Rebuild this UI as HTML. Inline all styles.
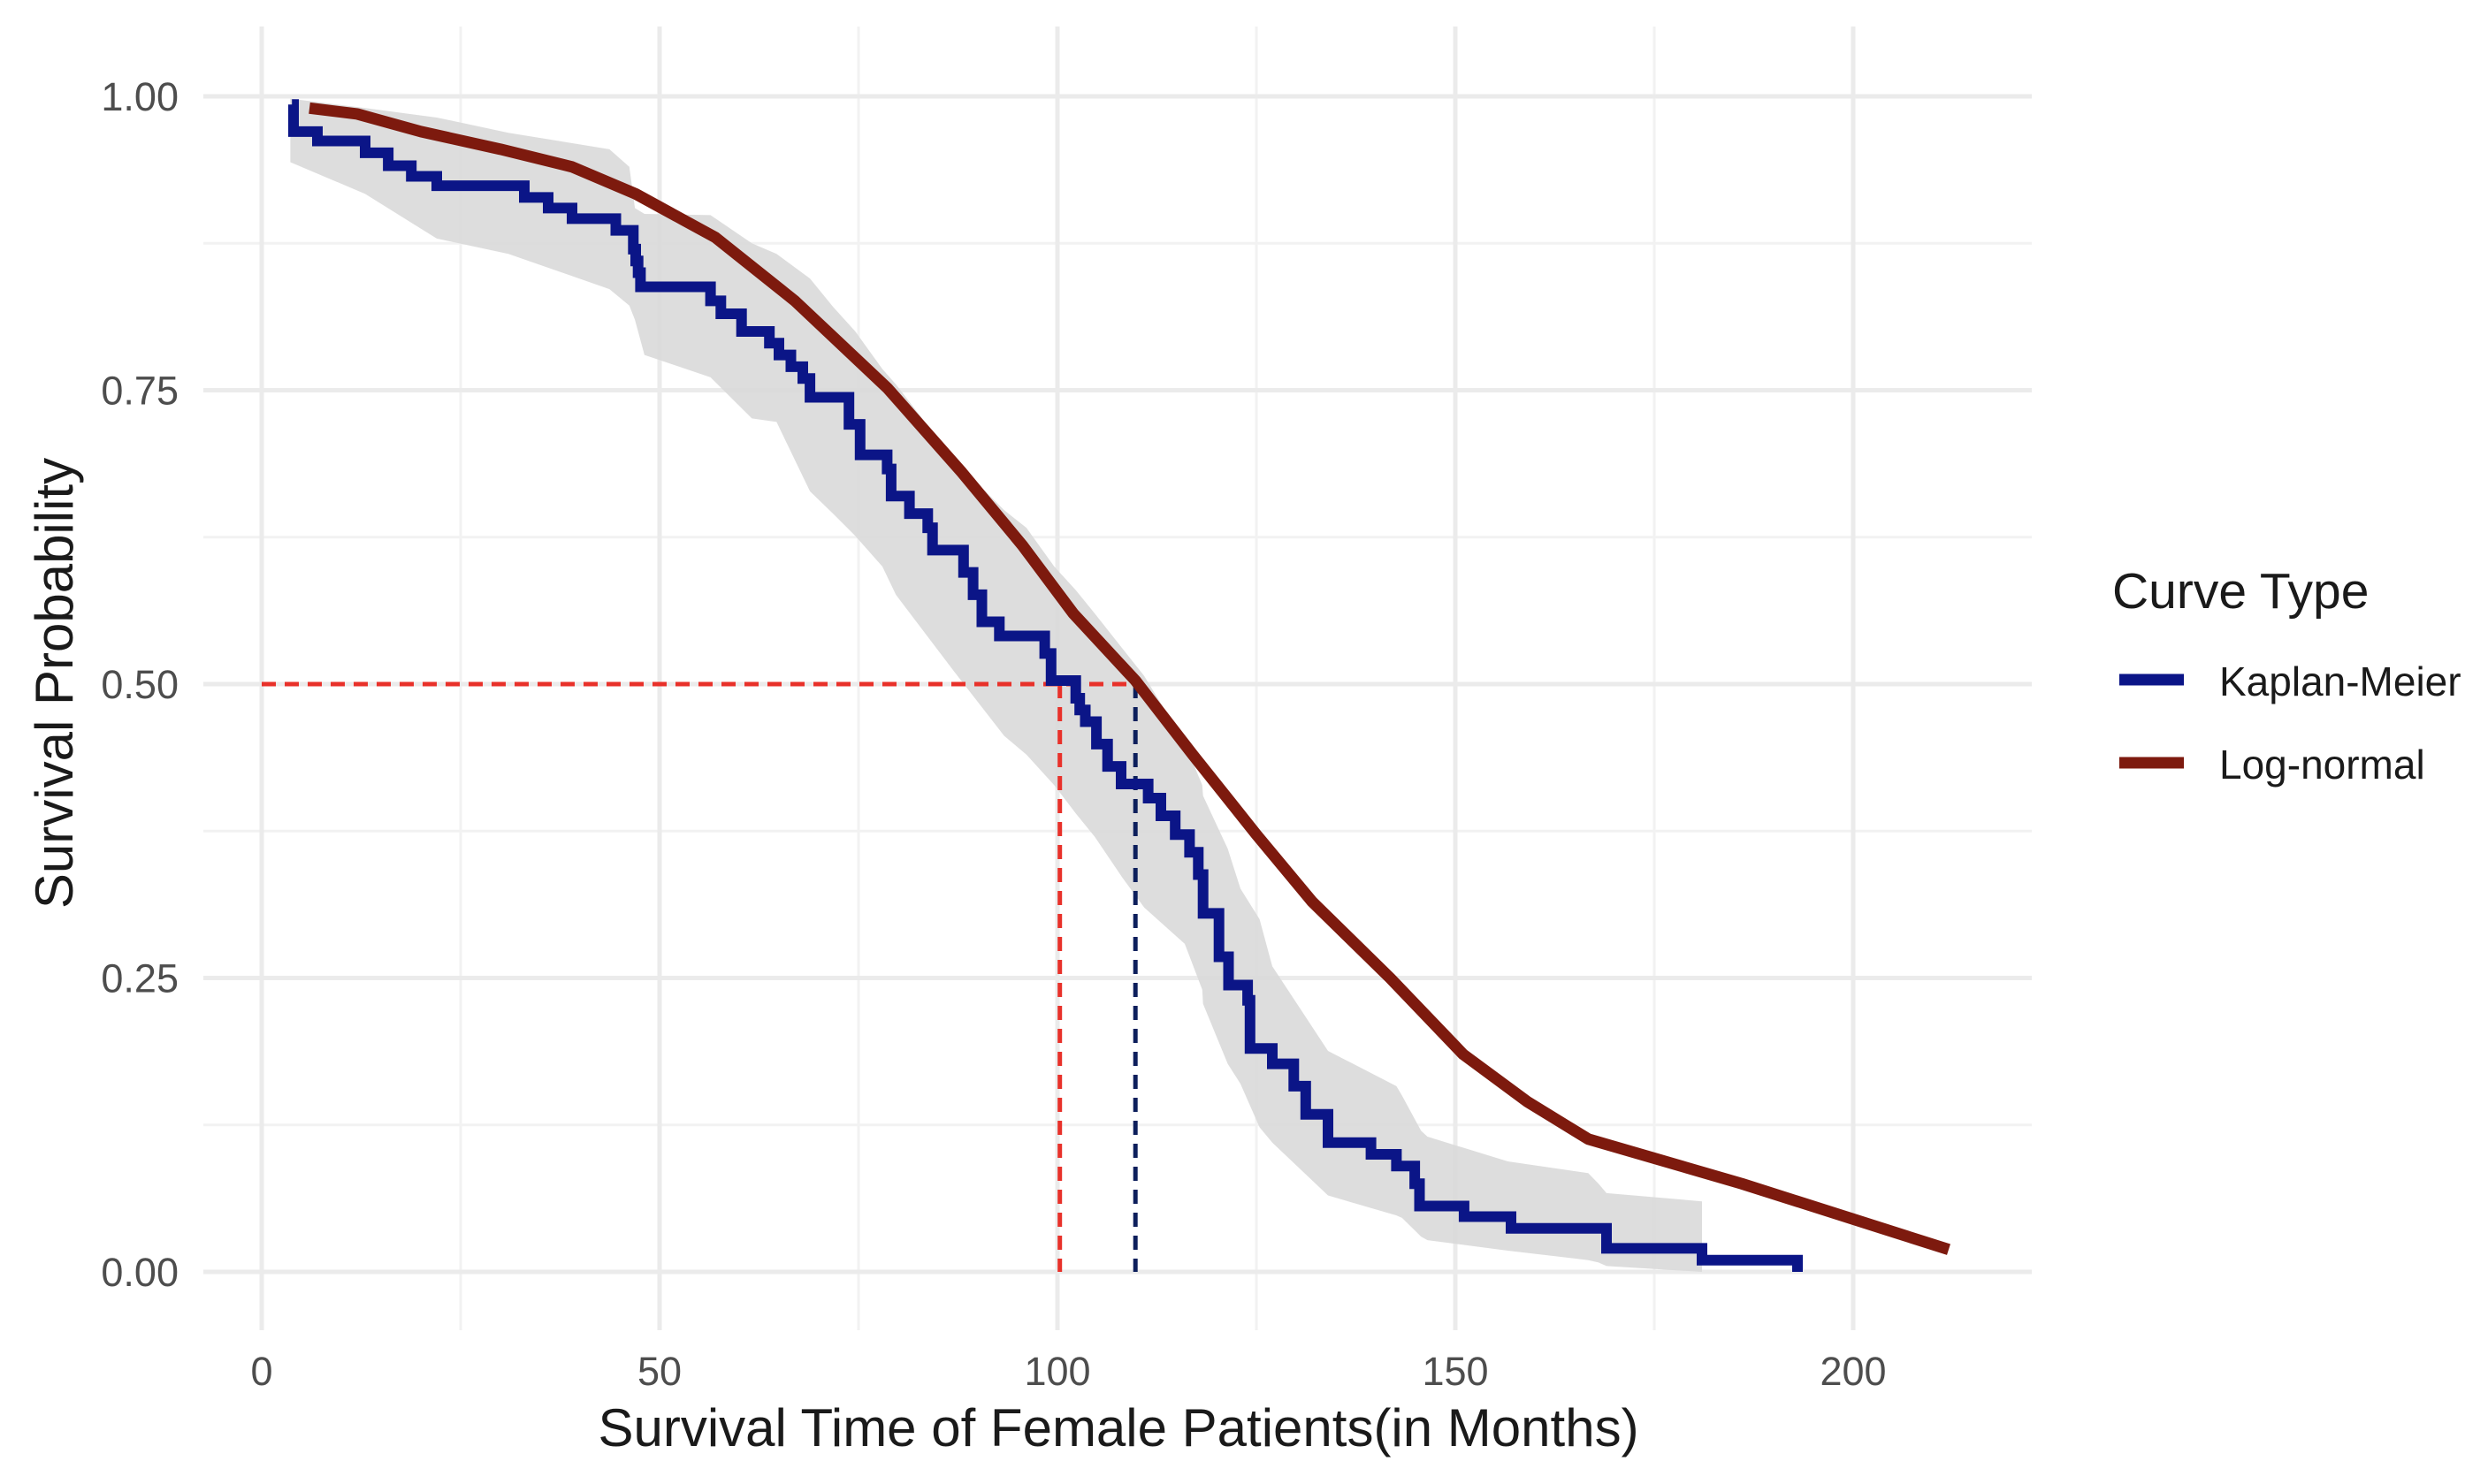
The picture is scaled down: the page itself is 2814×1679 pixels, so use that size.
<!DOCTYPE html>
<html><head><meta charset="utf-8"><style>
html,body{margin:0;padding:0;background:#fff;}
svg{display:block;font-family:"Liberation Sans",Arial,sans-serif;}
</style></head><body>
<svg id="chart" width="2814" height="1679" viewBox="0 0 2814 1679" xmlns="http://www.w3.org/2000/svg">
<g id="grid"></g>
<g id="band"></g>
<g id="series"></g>
<g id="axes"></g>
<text x="1265" y="1636" font-size="60" fill="#1a1a1a" text-anchor="middle">Survival Time of Female Patients(in Months)</text>
<text transform="translate(82,773) rotate(-90)" font-size="60" fill="#1a1a1a" text-anchor="middle">Survival Probability</text>
<g>
<text x="2389" y="688" font-size="57" fill="#1a1a1a">Curve Type</text>
<line x1="2397" y1="769" x2="2470" y2="769" stroke="#0b1587" stroke-width="13"/>
<text x="2510" y="787" font-size="46" fill="#1a1a1a">Kaplan-Meier</text>
<line x1="2397" y1="863" x2="2470" y2="863" stroke="#7d1a0e" stroke-width="13"/>
<text x="2510" y="881" font-size="46" fill="#1a1a1a">Log-normal</text>
</g>
</svg>
<script>
const xTicks = [0, 50, 100, 150, 200];
const xMinor = [25, 75, 125, 175];
const yTicks = [0, 0.25, 0.5, 0.75, 1.0];
const yTickLabels = ["0.00", "0.25", "0.50", "0.75", "1.00"];
const yMinor = [0.125, 0.375, 0.625, 0.875];
const kmTimes = [3.8,4.0,7,13,15.9,18.8,22,33,36,39,44.5,46.7,47,47.3,47.6,56.4,57.7,60.3,63.8,65,66.5,68,68.9,73.8,75.2,78.6,79.1,81.4,83.7,84.3,88.2,89.4,90.5,92.7,98.4,99.2,102.3,102.8,103.5,104.9,106.3,108,111.4,113,114.8,116.6,117.7,118.3,120.3,121.5,123.9,124.2,127,129.7,131.2,134,139.4,142.6,144.9,145.5,151.1,157,169,181,193];
const kmSurv = [0.993,0.97,0.962,0.952,0.941,0.932,0.924,0.914,0.905,0.896,0.886,0.87,0.86,0.85,0.838,0.826,0.815,0.80,0.79,0.78,0.77,0.76,0.744,0.721,0.695,0.683,0.66,0.645,0.633,0.614,0.595,0.576,0.553,0.541,0.526,0.503,0.488,0.478,0.468,0.449,0.43,0.415,0.403,0.388,0.372,0.357,0.338,0.305,0.268,0.244,0.231,0.19,0.177,0.158,0.134,0.11,0.10,0.09,0.075,0.056,0.047,0.037,0.02,0.01,0.0];
const bandTimes = [3.6,13,22,31,43.7,46.2,46.9,48.1,56.4,61.6,64.7,68.9,71.8,74.6,78,79.7,87.1,93.3,96.1,99.6,102.3,104.7,108.2,110.9,116,118.2,118.3,121.4,123,125.4,127,134,142.6,143.3,145.7,146.5,156.6,166.7,168,169,181];
const bandUpper = [0.998,0.99,0.982,0.969,0.955,0.94,0.905,0.90,0.899,0.875,0.866,0.845,0.821,0.80,0.768,0.755,0.69,0.648,0.633,0.60,0.58,0.56,0.53,0.507,0.45,0.414,0.405,0.36,0.326,0.30,0.26,0.188,0.158,0.15,0.12,0.115,0.094,0.084,0.075,0.067,0.06];
const bandLower = [0.944,0.917,0.879,0.866,0.836,0.822,0.81,0.78,0.761,0.726,0.723,0.664,0.645,0.626,0.60,0.576,0.51,0.456,0.44,0.414,0.39,0.37,0.335,0.31,0.279,0.24,0.228,0.177,0.16,0.123,0.11,0.065,0.048,0.046,0.03,0.027,0.018,0.01,0.008,0.005,0.0];
const lnTimes = [6,12,20,30,39,47,57,67,78.6,88,95.6,102,109.8,117,125,132,141.8,151,159,166.7,186,212];
const lnSurv = [0.99,0.985,0.97,0.955,0.94,0.917,0.88,0.826,0.752,0.68,0.618,0.56,0.503,0.44,0.372,0.315,0.25,0.185,0.145,0.113,0.075,0.019];
const medianKM = 100.3;
const medianLN = 109.8;

const X0 = 296, X200 = 2096, Y0 = 1439, Y1 = 109;
const PL = 230, PR = 2298, PT = 30, PB = 1505;
function sx(t){ return X0 + (X200 - X0) * t / 200; }
function sy(p){ return Y0 + (Y1 - Y0) * p; }
const NS = "http://www.w3.org/2000/svg";
function mk(parent, tag, attrs){
  const e = document.createElementNS(NS, tag);
  for (const k in attrs) e.setAttribute(k, attrs[k]);
  parent.appendChild(e);
  return e;
}
const grid = document.getElementById('grid');
xMinor.forEach(v => {
  const l = mk(grid, 'line', {x1:sx(v), x2:sx(v), y1:PT, y2:PB, stroke:'#f2f2f2', 'stroke-width':3});
  
  
});
yMinor.forEach(v => {
  const l = mk(grid, 'line', {x1:PL, x2:PR, y1:sy(v), y2:sy(v), stroke:'#f2f2f2', 'stroke-width':3});
  
  
});
xTicks.forEach(v => {
  const l = mk(grid, 'line', {x1:sx(v), x2:sx(v), y1:PT, y2:PB, stroke:'#ebebeb', 'stroke-width':5});
  
  
});
yTicks.forEach(v => {
  const l = mk(grid, 'line', {x1:PL, x2:PR, y1:sy(v), y2:sy(v), stroke:'#ebebeb', 'stroke-width':5});
  
  
});
const band = document.getElementById('band');
let bd = '';
bandTimes.forEach((t,i) => { bd += (i ? 'L' : 'M') + sx(t) + ',' + sy(bandUpper[i]); });
for (let i = bandTimes.length - 1; i >= 0; i--) bd += 'L' + sx(bandTimes[i]) + ',' + sy(bandLower[i]);
bd += 'Z';
const bp = mk(band, 'path', {d:bd, fill:'#d9d9d9', 'fill-opacity':0.9});


const series = document.getElementById('series');
const hl = mk(series, 'line', {x1:sx(0), x2:sx(medianLN), y1:sy(0.5), y2:sy(0.5), stroke:'#e8312a', 'stroke-width':5, 'stroke-dasharray':'16,10'});


const vr = mk(series, 'line', {x1:sx(medianKM), x2:sx(medianKM), y1:sy(0.5), y2:sy(0), stroke:'#e8312a', 'stroke-width':5, 'stroke-dasharray':'16,10'});


const vb = mk(series, 'line', {x1:sx(medianLN), x2:sx(medianLN), y1:sy(0.5), y2:sy(0), stroke:'#0d1f5c', 'stroke-width':5, 'stroke-dasharray':'16,10'});


let kd = 'M' + sx(kmTimes[0]) + ',' + sy(kmSurv[0]);
for (let i = 1; i < kmTimes.length; i++) {
  kd += 'H' + sx(kmTimes[i]) + 'V' + sy(kmSurv[i]);
}
const km = mk(series, 'path', {d:kd, fill:'none', stroke:'#0b1587', 'stroke-width':12, 'stroke-linejoin':'miter'});


let ld = '';
lnTimes.forEach((t,i) => { ld += (i ? 'L' : 'M') + sx(t) + ',' + sy(lnSurv[i]); });
const ln = mk(series, 'path', {d:ld, fill:'none', stroke:'#7d1a0e', 'stroke-width':13, 'stroke-linejoin':'round'});


const axes = document.getElementById('axes');
xTicks.forEach(v => {
  const t = mk(axes, 'text', {x:sx(v), y:1567, 'font-size':45, fill:'#4d4d4d', 'text-anchor':'middle'});
  t.textContent = String(v);
  
  
});
yTicks.forEach((v,i) => {
  const t = mk(axes, 'text', {x:202, y:sy(v) + 16, 'font-size':45, fill:'#4d4d4d', 'text-anchor':'end'});
  t.textContent = yTickLabels[i];
  
  
});
</script>
</body></html>
